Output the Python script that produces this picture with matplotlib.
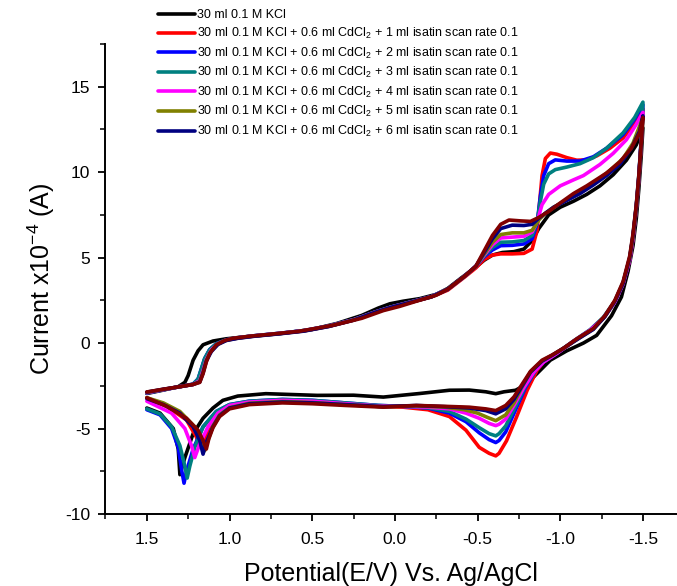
import matplotlib
matplotlib.use("Agg")
import matplotlib.pyplot as plt
from matplotlib.ticker import MultipleLocator

plt.rcParams['font.family'] = ['Liberation Sans', 'DejaVu Sans']
plt.rcParams['mathtext.fontset'] = 'custom'
plt.rcParams['mathtext.rm'] = 'Liberation Sans'
plt.rcParams['mathtext.it'] = 'Liberation Sans:italic'
plt.rcParams['axes.unicode_minus'] = False

## Data: (potential V, current x1e-4 A)
# forward scan (1.5 -> -1.5), then reverse scan (-1.5 -> 1.5)

kcl_up = [(1.50, -2.95), (1.40, -2.75), (1.31, -2.55), (1.27, -2.3), (1.25, -1.9), (1.22, -1.0),
          (1.19, -0.45), (1.16, -0.1), (1.10, 0.12), (1.02, 0.25), (0.88, 0.39), (0.70, 0.55),
          (0.50, 0.8), (0.35, 1.15), (0.20, 1.62), (0.10, 2.05), (0.03, 2.3), (-0.05, 2.45),
          (-0.15, 2.6), (-0.25, 2.85), (-0.32, 3.2), (-0.40, 3.8), (-0.49, 4.45), (-0.54, 4.85),
          (-0.59, 5.15), (-0.65, 5.3), (-0.72, 5.35), (-0.78, 5.5), (-0.83, 6.0), (-0.87, 6.7),
          (-0.93, 7.5), (-1.00, 7.95), (-1.08, 8.3), (-1.16, 8.7), (-1.24, 9.2), (-1.32, 9.85),
          (-1.40, 10.7), (-1.46, 11.6), (-1.50, 12.6)]
kcl_down = [(-1.50, 12.6), (-1.49, 11.0), (-1.475, 9.0), (-1.46, 7.3), (-1.44, 5.7), (-1.41, 4.2),
            (-1.37, 2.7), (-1.31, 1.6), (-1.22, 0.45), (-1.14, 0.0), (-1.04, -0.45), (-0.94, -1.0),
            (-0.84, -1.97), (-0.78, -2.5), (-0.73, -2.76), (-0.66, -2.85), (-0.61, -2.96),
            (-0.55, -2.85), (-0.45, -2.75), (-0.33, -2.76), (-0.15, -2.95), (0.07, -3.16),
            (0.25, -3.05), (0.47, -3.06), (0.78, -2.96), (0.95, -3.1), (1.04, -3.35), (1.10, -3.8),
            (1.16, -4.4), (1.22, -5.3), (1.27, -6.7), (1.30, -7.7), (1.31, -6.2), (1.34, -5.0),
            (1.42, -4.1), (1.50, -3.8)]

isatin1_up = [(1.50, -2.90), (1.40, -2.72), (1.30, -2.55), (1.22, -2.42), (1.19, -2.2), (1.17, -1.6),
              (1.15, -0.95), (1.12, -0.4), (1.08, -0.05), (1.02, 0.18), (0.95, 0.3), (0.85, 0.42),
              (0.70, 0.56), (0.55, 0.72), (0.40, 0.98), (0.25, 1.35), (0.12, 1.8), (0.02, 2.1),
              (-0.10, 2.4), (-0.22, 2.7), (-0.32, 3.1), (-0.42, 3.85), (-0.49, 4.4), (-0.54, 4.9),
              (-0.59, 5.15), (-0.64, 5.22), (-0.71, 5.22), (-0.78, 5.25), (-0.83, 5.5), (-0.86, 6.6),
              (-0.875, 8.2), (-0.89, 9.8), (-0.91, 10.8), (-0.94, 11.12), (-0.98, 11.05),
              (-1.04, 10.85), (-1.10, 10.7), (-1.16, 10.72), (-1.22, 10.95), (-1.30, 11.4),
              (-1.38, 12.0), (-1.45, 12.9), (-1.50, 13.7)]
isatin1_down = [(-1.50, 13.7), (-1.49, 11.8), (-1.475, 9.6), (-1.46, 8.0), (-1.44, 6.2), (-1.42, 4.9),
                (-1.38, 3.5), (-1.33, 2.4), (-1.26, 1.45), (-1.18, 0.75), (-1.08, 0.1), (-0.98, -0.6),
                (-0.90, -1.1), (-0.86, -1.58), (-0.80, -2.76), (-0.735, -4.34), (-0.675, -5.72),
                (-0.63, -6.45), (-0.61, -6.6), (-0.57, -6.45), (-0.51, -6.1), (-0.43, -5.1),
                (-0.33, -4.3), (-0.20, -3.9), (-0.05, -3.75), (0.10, -3.7), (0.30, -3.55),
                (0.50, -3.42), (0.68, -3.4), (0.88, -3.5), (1.00, -3.75), (1.07, -4.3), (1.12, -5.1),
                (1.16, -5.8), (1.18, -6.1), (1.20, -5.5), (1.26, -4.5), (1.38, -3.7), (1.50, -3.2)]

isatin2_up = [(1.50, -2.92), (1.40, -2.73), (1.30, -2.55), (1.22, -2.4), (1.19, -2.1), (1.17, -1.5),
              (1.15, -0.9), (1.12, -0.38), (1.08, -0.04), (1.02, 0.19), (0.95, 0.31), (0.85, 0.43),
              (0.70, 0.57), (0.55, 0.73), (0.40, 1.0), (0.25, 1.37), (0.12, 1.82), (0.02, 2.12),
              (-0.10, 2.42), (-0.22, 2.72), (-0.32, 3.15), (-0.42, 3.9), (-0.49, 4.5), (-0.54, 5.05),
              (-0.59, 5.45), (-0.64, 5.7), (-0.71, 5.72), (-0.78, 5.8), (-0.83, 6.1), (-0.86, 7.0),
              (-0.88, 8.6), (-0.90, 9.8), (-0.93, 10.5), (-0.97, 10.72), (-1.04, 10.65),
              (-1.12, 10.65), (-1.20, 10.9), (-1.28, 11.4), (-1.38, 12.2), (-1.45, 13.1), (-1.50, 13.95)]
isatin2_down = [(-1.50, 13.95), (-1.49, 11.9), (-1.475, 9.7), (-1.46, 8.0), (-1.44, 6.2), (-1.42, 4.9),
                (-1.38, 3.5), (-1.33, 2.4), (-1.26, 1.45), (-1.18, 0.75), (-1.08, 0.1), (-0.98, -0.6),
                (-0.90, -1.1), (-0.85, -1.6), (-0.79, -2.6), (-0.73, -3.9), (-0.67, -5.2),
                (-0.63, -5.7), (-0.61, -5.82), (-0.57, -5.65), (-0.51, -5.25), (-0.43, -4.6),
                (-0.33, -4.1), (-0.20, -3.8), (-0.05, -3.7), (0.10, -3.65), (0.30, -3.5),
                (0.50, -3.35), (0.68, -3.3), (0.88, -3.4), (1.00, -3.6), (1.08, -4.0), (1.16, -4.9),
                (1.22, -6.2), (1.26, -7.5), (1.275, -8.2), (1.29, -7.4), (1.31, -6.1), (1.35, -5.0),
                (1.42, -4.2), (1.50, -3.9)]

isatin3_up = [(1.50, -2.92), (1.40, -2.73), (1.30, -2.55), (1.22, -2.4), (1.19, -2.1), (1.17, -1.5),
              (1.15, -0.9), (1.12, -0.38), (1.08, -0.04), (1.02, 0.19), (0.95, 0.31), (0.85, 0.43),
              (0.70, 0.57), (0.55, 0.73), (0.40, 1.0), (0.25, 1.37), (0.12, 1.82), (0.02, 2.12),
              (-0.10, 2.42), (-0.22, 2.72), (-0.32, 3.15), (-0.42, 3.9), (-0.49, 4.5), (-0.54, 5.1),
              (-0.59, 5.6), (-0.64, 5.9), (-0.71, 5.92), (-0.78, 6.0), (-0.83, 6.3), (-0.86, 7.1),
              (-0.88, 8.3), (-0.90, 9.3), (-0.93, 9.9), (-0.97, 10.15), (-1.04, 10.3), (-1.12, 10.5),
              (-1.20, 10.85), (-1.28, 11.4), (-1.38, 12.3), (-1.45, 13.2), (-1.50, 14.1)]
isatin3_down = [(-1.50, 14.1), (-1.49, 12.0), (-1.475, 9.8), (-1.46, 8.1), (-1.44, 6.3), (-1.42, 5.0),
                (-1.38, 3.55), (-1.33, 2.45), (-1.26, 1.5), (-1.18, 0.78), (-1.08, 0.12), (-0.98, -0.58),
                (-0.90, -1.08), (-0.85, -1.6), (-0.79, -2.5), (-0.73, -3.7), (-0.67, -4.85),
                (-0.63, -5.3), (-0.61, -5.43), (-0.57, -5.3), (-0.51, -4.95), (-0.43, -4.45),
                (-0.33, -4.0), (-0.20, -3.78), (-0.05, -3.7), (0.10, -3.65), (0.30, -3.5),
                (0.50, -3.35), (0.68, -3.3), (0.88, -3.4), (1.00, -3.6), (1.08, -4.0), (1.16, -4.9),
                (1.21, -6.1), (1.24, -7.2), (1.256, -7.9), (1.27, -7.2), (1.30, -6.0), (1.35, -4.9),
                (1.42, -4.15), (1.50, -3.85)]

isatin4_up = [(1.50, -2.9), (1.40, -2.72), (1.30, -2.55), (1.22, -2.42), (1.18, -2.2), (1.16, -1.6),
              (1.14, -0.95), (1.11, -0.4), (1.07, -0.05), (1.02, 0.17), (0.95, 0.3), (0.85, 0.42),
              (0.70, 0.56), (0.55, 0.72), (0.40, 0.99), (0.25, 1.36), (0.12, 1.81), (0.02, 2.11),
              (-0.10, 2.41), (-0.22, 2.71), (-0.32, 3.15), (-0.42, 3.9), (-0.49, 4.5), (-0.54, 5.15),
              (-0.59, 5.75), (-0.64, 6.15), (-0.71, 6.2), (-0.78, 6.25), (-0.83, 6.5), (-0.86, 7.1),
              (-0.89, 8.1), (-0.93, 8.7), (-1.00, 9.2), (-1.08, 9.55), (-1.14, 9.8), (-1.24, 10.45),
              (-1.32, 11.1), (-1.40, 11.9), (-1.46, 12.8), (-1.50, 13.5)]
isatin4_down = [(-1.50, 13.5), (-1.49, 11.8), (-1.475, 9.6), (-1.46, 7.9), (-1.44, 6.1), (-1.42, 4.85),
                (-1.38, 3.45), (-1.33, 2.4), (-1.26, 1.45), (-1.18, 0.75), (-1.08, 0.1), (-0.98, -0.6),
                (-0.90, -1.1), (-0.84, -1.7), (-0.78, -2.6), (-0.72, -3.65), (-0.67, -4.45),
                (-0.63, -4.75), (-0.61, -4.83), (-0.57, -4.7), (-0.51, -4.4), (-0.43, -4.1),
                (-0.33, -3.85), (-0.20, -3.75), (-0.05, -3.7), (0.10, -3.68), (0.30, -3.55),
                (0.50, -3.4), (0.68, -3.35), (0.88, -3.45), (1.00, -3.65), (1.07, -4.1), (1.13, -4.9),
                (1.18, -5.9), (1.21, -6.7), (1.23, -6.0), (1.27, -5.0), (1.35, -4.1), (1.50, -3.4)]

isatin5_up = [(1.50, -2.88), (1.40, -2.71), (1.30, -2.55), (1.22, -2.42), (1.18, -2.25), (1.16, -1.7),
              (1.14, -1.0), (1.11, -0.45), (1.07, -0.07), (1.02, 0.16), (0.95, 0.29), (0.85, 0.41),
              (0.70, 0.55), (0.55, 0.71), (0.40, 0.98), (0.25, 1.35), (0.12, 1.8), (0.02, 2.1),
              (-0.10, 2.4), (-0.22, 2.7), (-0.32, 3.15), (-0.42, 3.9), (-0.49, 4.5), (-0.54, 5.2),
              (-0.59, 5.9), (-0.64, 6.35), (-0.71, 6.45), (-0.78, 6.45), (-0.83, 6.6), (-0.87, 7.2),
              (-0.91, 7.6), (-0.96, 7.95), (-1.04, 8.4), (-1.12, 8.85), (-1.20, 9.35), (-1.30, 10.1),
              (-1.38, 10.8), (-1.44, 11.7), (-1.50, 13.2)]
isatin5_down = [(-1.50, 13.2), (-1.49, 11.7), (-1.475, 9.6), (-1.46, 7.9), (-1.44, 6.2), (-1.42, 4.95),
                (-1.38, 3.5), (-1.33, 2.45), (-1.27, 1.55), (-1.20, 0.82), (-1.10, 0.2), (-1.02, -0.3),
                (-0.95, -0.72), (-0.89, -1.05), (-0.82, -1.7), (-0.77, -2.55), (-0.72, -3.5),
                (-0.67, -4.2), (-0.61, -4.54), (-0.56, -4.35), (-0.50, -4.1), (-0.42, -3.9),
                (-0.30, -3.75), (-0.13, -3.68), (0.07, -3.72), (0.30, -3.6), (0.50, -3.48),
                (0.68, -3.42), (0.88, -3.52), (1.00, -3.78), (1.06, -4.2), (1.10, -4.85), (1.13, -5.7),
                (1.15, -6.3), (1.17, -5.7), (1.21, -4.9), (1.30, -4.0), (1.40, -3.5), (1.50, -3.2)]

isatin6_up = [(1.50, -2.87), (1.40, -2.7), (1.30, -2.55), (1.22, -2.42), (1.18, -2.28), (1.16, -1.75),
              (1.14, -1.05), (1.11, -0.5), (1.07, -0.08), (1.02, 0.15), (0.95, 0.28), (0.85, 0.4),
              (0.70, 0.54), (0.55, 0.7), (0.40, 0.97), (0.25, 1.34), (0.12, 1.8), (0.02, 2.1),
              (-0.10, 2.4), (-0.22, 2.7), (-0.32, 3.15), (-0.42, 3.9), (-0.49, 4.5), (-0.54, 5.3),
              (-0.59, 6.1), (-0.64, 6.7), (-0.71, 6.9), (-0.78, 6.88), (-0.83, 6.95), (-0.87, 7.3),
              (-0.91, 7.6), (-0.96, 7.95), (-1.04, 8.35), (-1.12, 8.75), (-1.20, 9.25), (-1.28, 9.8),
              (-1.36, 10.45), (-1.43, 11.4), (-1.48, 12.4), (-1.50, 13.3)]
isatin6_down = [(-1.50, 13.3), (-1.49, 11.8), (-1.475, 9.7), (-1.46, 8.0), (-1.44, 6.3), (-1.42, 5.0),
                (-1.38, 3.5), (-1.33, 2.45), (-1.27, 1.55), (-1.20, 0.8), (-1.10, 0.2), (-1.02, -0.3),
                (-0.95, -0.72), (-0.89, -1.05), (-0.82, -1.7), (-0.77, -2.5), (-0.72, -3.3),
                (-0.67, -3.85), (-0.61, -4.14), (-0.55, -3.95), (-0.45, -3.8), (-0.30, -3.72),
                (-0.13, -3.65), (0.07, -3.72), (0.30, -3.6), (0.50, -3.5), (0.68, -3.45), (0.88, -3.55),
                (1.00, -3.8), (1.06, -4.25), (1.10, -4.9), (1.14, -5.8), (1.16, -6.5), (1.18, -5.7),
                (1.22, -4.9), (1.30, -4.1), (1.40, -3.6), (1.50, -3.25)]

isatin7_up = [(1.50, -2.86), (1.40, -2.7), (1.30, -2.55), (1.22, -2.42), (1.18, -2.3), (1.16, -1.8),
              (1.14, -1.1), (1.12, -0.6), (1.08, -0.1), (1.03, 0.15), (0.98, 0.28), (0.88, 0.4),
              (0.78, 0.49), (0.58, 0.69), (0.37, 1.05), (0.20, 1.45), (0.07, 1.9), (-0.03, 2.15),
              (-0.13, 2.45), (-0.25, 2.8), (-0.32, 3.15), (-0.42, 3.9), (-0.49, 4.5), (-0.54, 5.4),
              (-0.59, 6.3), (-0.64, 6.95), (-0.69, 7.2), (-0.76, 7.15), (-0.82, 7.12), (-0.87, 7.35),
              (-0.93, 7.7), (-1.00, 8.2), (-1.08, 8.75), (-1.16, 9.2), (-1.28, 9.95), (-1.36, 10.6),
              (-1.43, 11.4), (-1.48, 12.3), (-1.50, 13.2)]
isatin7_down = [(-1.50, 13.2), (-1.49, 11.8), (-1.475, 9.8), (-1.46, 8.1), (-1.44, 6.4), (-1.42, 5.1),
                (-1.38, 3.6), (-1.33, 2.5), (-1.27, 1.6), (-1.20, 0.85), (-1.10, 0.25), (-1.02, -0.3),
                (-0.95, -0.7), (-0.89, -1.0), (-0.82, -1.65), (-0.77, -2.4), (-0.72, -3.15),
                (-0.67, -3.65), (-0.61, -3.95), (-0.55, -3.85), (-0.45, -3.75), (-0.30, -3.7),
                (-0.13, -3.65), (0.07, -3.75), (0.30, -3.65), (0.50, -3.55), (0.68, -3.5), (0.88, -3.6),
                (1.00, -3.85), (1.06, -4.3), (1.10, -4.95), (1.125, -5.6), (1.14, -6.2), (1.16, -5.7),
                (1.19, -5.1), (1.26, -4.4), (1.38, -3.7), (1.50, -3.2)]

labels = ["30 ml 0.1 M KCl"] + [
    "30 ml 0.1 M KCl + 0.6 ml CdCl$_2$ + %d ml isatin scan rate 0.1" % n for n in range(1, 7)
]
scans = [(kcl_up, kcl_down), (isatin1_up, isatin1_down), (isatin2_up, isatin2_down),
         (isatin3_up, isatin3_down), (isatin4_up, isatin4_down), (isatin5_up, isatin5_down),
         (isatin6_up, isatin6_down), (isatin7_up, isatin7_down)]
colors = ["#000000", "#ff0000", "#0000ff", "#008080", "#ff00ff", "#808000", "#000080", "#800000"]

fig = plt.figure(figsize=(6.77, 5.86), dpi=100)
ax = fig.add_axes([0.1558, 0.1229, 0.8442, 0.802])

handles = []
for i, (up, down) in enumerate(scans):
    pts = up + down[1:]
    xs = [p[0] for p in pts]
    ys = [p[1] for p in pts]
    ln, = ax.plot(xs, ys, color=colors[i], lw=2.6, solid_joinstyle='round', solid_capstyle='round')
    if i < len(labels):
        handles.append(ln)

ax.set_xlim(1.75, -1.706)
ax.set_ylim(-10, 17.5)
ax.xaxis.set_major_locator(MultipleLocator(0.5))
ax.xaxis.set_minor_locator(MultipleLocator(0.25))
ax.yaxis.set_major_locator(MultipleLocator(5))
ax.yaxis.set_minor_locator(MultipleLocator(2.5))
ax.xaxis.set_major_formatter(plt.FuncFormatter(lambda v, p: "%.1f" % v))
for s in ['top', 'right']:
    ax.spines[s].set_visible(False)
for s in ['left', 'bottom']:
    ax.spines[s].set_linewidth(1.4)
ax.tick_params(which='major', direction='out', length=5.3, width=1.3, labelsize=12.5)
ax.tick_params(which='minor', direction='out', length=3.6, width=1.1)
ax.tick_params(axis='x', which='major', pad=7.5)
ax.tick_params(axis='y', which='major', pad=5.5)

ax.set_xlabel("Potential(E/V) Vs. Ag/AgCl", fontsize=18, labelpad=11)
ax.set_ylabel("Current x10$^{-4}$ (A)", fontsize=18, labelpad=6)

fig.legend(handles, labels, loc='upper left', bbox_to_anchor=(0.234, 0.984), frameon=False,
           fontsize=9, handlelength=2.9, handletextpad=0.2, labelspacing=0.36,
           borderpad=0, borderaxespad=0)

fig.savefig("out.png", dpi=100)
